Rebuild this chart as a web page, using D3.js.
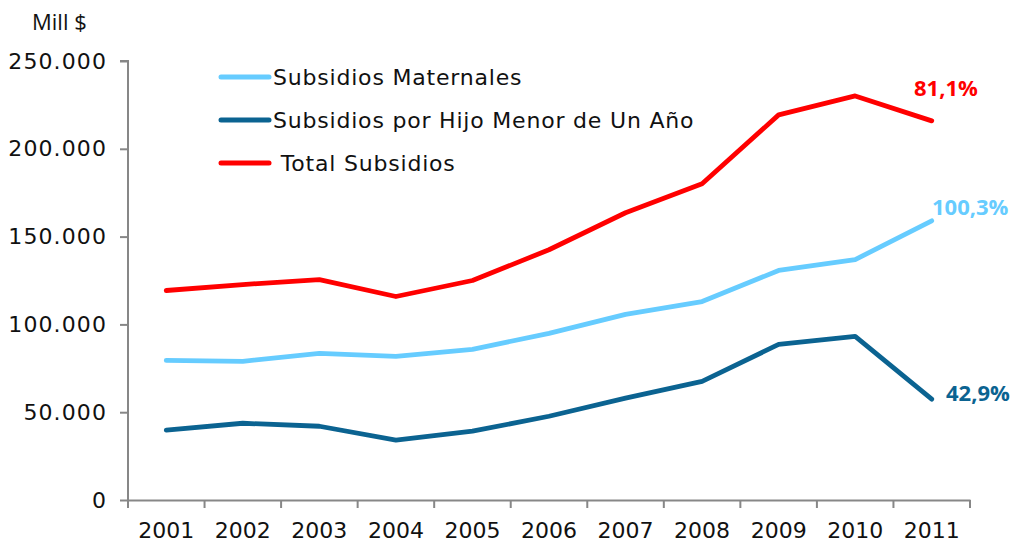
<!DOCTYPE html>
<html>
<head>
<meta charset="utf-8">
<script src="https://cdn.jsdelivr.net/npm/d3@7"></script>
<style>
body { margin: 0; background: #fff; }
</style>
</head>
<body>
<div id="container"></div>
<script>
var anos = ["2001","2002","2003","2004","2005","2006","2007","2008","2009","2010","2011"];
var maternales = [79500, 79000, 83500, 81800, 85800, 94900, 105700, 113000, 130700, 136900, 159000];
var hijoMenor = [39800, 43700, 42000, 34100, 39200, 47700, 58000, 67600, 88600, 93200, 57400];
var totalSub = [119300, 122700, 125500, 115900, 125000, 142500, 163600, 180100, 219300, 230100, 215900];
var ticksY = [0, 50000, 100000, 150000, 200000, 250000];
var nombres = ["Subsidios Maternales", "Subsidios por Hijo Menor de Un Año", " Total Subsidios"];
var porcentajes = ["100,3%", "42,9%", "81,1%"];
var colores = ["#66ccff", "#0b6391", "#ff0000"];

var w = 1014;
var h = 545;
var svg = d3.select("div#container")
            .append("svg")
            .attr("width", w)
            .attr("height", h);

var x = d3.scaleBand().domain(anos).range([128, 970]);
var y = d3.scaleLinear().domain([0, 250000]).range([500, 61]);

// Ejes
var ejeY = svg.append("g")
    .attr("transform", "translate(128,0)")
    .call(d3.axisLeft(y).tickValues(ticksY).tickSize(8).tickPadding(13)
        .tickFormat(function(d){ return d3.format(",")(d).replace(/,/g, "."); }));
var ejeX = svg.append("g")
    .attr("transform", "translate(0,500)")
    .call(d3.axisBottom(x).tickSize(0).tickPadding(22));
svg.append("g").selectAll("line")
    .data(anos.concat(["fin"]))
    .enter()
    .append("line")
    .attr("x1", function(d, i){ return 128 + i * x.step(); })
    .attr("x2", function(d, i){ return 128 + i * x.step(); })
    .attr("y1", 500).attr("y2", 508)
    .attr("stroke", "#878787").attr("stroke-width", 2);

[ejeY, ejeX].forEach(function(eje){
    eje.select(".domain").attr("stroke", "#878787").attr("stroke-width", 2);
    eje.selectAll(".tick line").attr("stroke", "#878787").attr("stroke-width", 2);
    eje.selectAll("text")
        .attr("fill", "#111")
        .style("font-family", "'DejaVu Sans', Verdana, sans-serif")
        .style("font-size", "22px");
});
ejeY.selectAll("text").style("letter-spacing", "1.1px");
ejeY.select(".domain").attr("d", "M-8,61H0V500");

svg.append("text")
    .attr("x", 32).attr("y", 30)
    .style("font-family", "'Open Sans', sans-serif")
    .style("font-size", "22px")
    .attr("fill", "#111")
    .text("Mill $");

// Lineas
var series = [maternales, hijoMenor, totalSub];
var linea = d3.line()
    .x(function(d, i){ return x(anos[i]) + x.bandwidth() / 2; })
    .y(function(d){ return y(d); });

svg.selectAll(".serie")
    .data(series)
    .enter()
    .append("path")
    .attr("class", "serie")
    .attr("d", linea)
    .attr("fill", "none")
    .attr("stroke", function(d, i){ return colores[i]; })
    .attr("stroke-width", 4.8)
    .attr("stroke-linecap", "round")
    .attr("stroke-linejoin", "round");

// Porcentajes
var posPct = [[932, 215], [946, 401], [914, 96]];
svg.selectAll(".pct")
    .data(porcentajes)
    .enter()
    .append("text")
    .attr("class", "pct")
    .attr("x", function(d, i){ return posPct[i][0]; })
    .attr("y", function(d, i){ return posPct[i][1]; })
    .attr("fill", function(d, i){ return colores[i]; })
    .style("font-family", "'Open Sans', sans-serif")
    .style("font-weight", "bold")
    .style("font-size", "22px")
    .text(function(d){ return d; });

// Leyenda
var leyenda = svg.selectAll(".ley")
    .data(nombres)
    .enter()
    .append("g")
    .attr("class", "ley")
    .attr("transform", function(d, i){ return "translate(221," + (77 + i * 43) + ")"; });
leyenda.append("line")
    .attr("x1", 0).attr("x2", 48)
    .attr("stroke", function(d, i){ return colores[i]; })
    .attr("stroke-width", 5)
    .attr("stroke-linecap", "round");
leyenda.append("text")
    .attr("x", 52).attr("y", 8)
    .attr("fill", "#111")
    .style("font-family", "'DejaVu Sans', Verdana, sans-serif")
    .style("font-size", "22px")
    .style("letter-spacing", "0.8px")
    .style("white-space", "pre")
    .text(function(d){ return d; });
</script>
</body>
</html>
